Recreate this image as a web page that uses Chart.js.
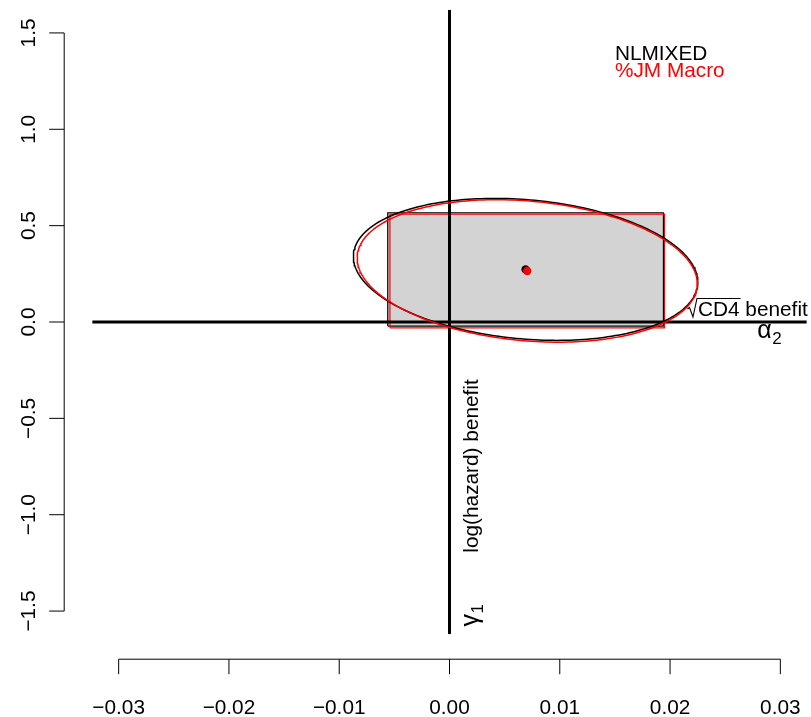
<!DOCTYPE html>
<html>
<head>
<meta charset="utf-8">
<script src="https://cdn.jsdelivr.net/npm/chart.js@4/dist/chart.umd.min.js"></script>
<style>
  html, body { margin: 0; padding: 0; background: #ffffff; }
  canvas { display: block; }
</style>
</head>
<body>
<canvas id="c" width="811" height="717"></canvas>
<script>
// Methods compared
const methods = ['NLMIXED', '%JM Macro'];
const methodColors = ['#000000', '#FF0000'];

// sqrt(CD4) benefit (alpha2): estimate and 95% interval
const alpha2Est = [0.0069, 0.00705];
const alpha2Lower = [-0.0056, -0.0054];
const alpha2Upper = [0.0194, 0.0195];

// log(hazard) benefit (gamma1): estimate and 95% interval
const gamma1Est = [0.273, 0.265];
const gamma1Lower = [-0.021, -0.030];
const gamma1Upper = [0.567, 0.560];

// Joint 95% confidence ellipse: standard errors and correlation
const alpha2SE = [0.00638, 0.00630];
const gamma1SE = [0.1505, 0.1510];
const estCorr = [-0.18, -0.18];

// Axes
const xRange = [-0.0324, 0.0324];
const yRange = [-1.62, 1.62];
const xTicks = [-0.03, -0.02, -0.01, 0, 0.01, 0.02, 0.03];
const xTickLabels = ['\u22120.03', '\u22120.02', '\u22120.01', '0.00', '0.01', '0.02', '0.03'];
const yTicks = [-1.5, -1.0, -0.5, 0, 0.5, 1.0, 1.5];
const yTickLabels = ['\u22121.5', '\u22121.0', '\u22120.5', '0.0', '0.5', '1.0', '1.5'];

const FONT = '"Liberation Sans", Arial, Helvetica, sans-serif';
const FS = 20.8;
const CHI2_95_2DF = Math.sqrt(5.991465);

function rectPath(i) {
  return [
    { x: alpha2Lower[i], y: gamma1Lower[i] },
    { x: alpha2Upper[i], y: gamma1Lower[i] },
    { x: alpha2Upper[i], y: gamma1Upper[i] },
    { x: alpha2Lower[i], y: gamma1Upper[i] },
    { x: alpha2Lower[i], y: gamma1Lower[i] }
  ];
}

// Outline of the joint confidence region for method i
function ellipsePath(i) {
  const pts = [];
  const theta = Math.acos(estCorr[i]);
  const n = 240;
  for (let k = 0; k <= n; k++) {
    const t = (2 * Math.PI * k) / n;
    pts.push({
      x: alpha2Est[i] + CHI2_95_2DF * alpha2SE[i] * Math.cos(t),
      y: gamma1Est[i] + CHI2_95_2DF * gamma1SE[i] * Math.cos(t + theta)
    });
  }
  return pts;
}

const datasets = [
  {
    label: 'interval-' + methods[0], data: rectPath(0), order: 10,
    borderColor: methodColors[0], borderWidth: 1.2, backgroundColor: '#D3D3D3',
    fill: 'shape', pointRadius: 0, tension: 0
  },
  {
    label: 'interval-' + methods[1], data: rectPath(1), order: 9,
    borderColor: methodColors[1], borderWidth: 1.2, fill: false, pointRadius: 0, tension: 0
  },
  {
    label: 'h0', data: [{ x: xRange[0], y: 0 }, { x: xRange[1], y: 0 }], order: 8,
    borderColor: '#000000', borderWidth: 3, fill: false, pointRadius: 0
  },
  {
    label: 'v0', data: [{ x: 0, y: yRange[0] }, { x: 0, y: yRange[1] }], order: 7,
    borderColor: '#000000', borderWidth: 3, fill: false, pointRadius: 0
  },
  {
    label: 'region-' + methods[0], data: ellipsePath(0), order: 6,
    borderColor: methodColors[0], borderWidth: 1.5, fill: false, pointRadius: 0, tension: 0
  },
  {
    label: 'region-' + methods[1], data: ellipsePath(1), order: 5,
    borderColor: methodColors[1], borderWidth: 1.5, fill: false, pointRadius: 0, tension: 0
  },
  {
    label: 'est-' + methods[0], data: [{ x: alpha2Est[0], y: gamma1Est[0] }], order: 4,
    showLine: false, pointRadius: 4.2, pointBackgroundColor: methodColors[0],
    pointBorderWidth: 0, borderColor: methodColors[0]
  },
  {
    label: 'est-' + methods[1], data: [{ x: alpha2Est[1], y: gamma1Est[1] }], order: 3,
    showLine: false, pointRadius: 4.2, pointBackgroundColor: methodColors[1],
    pointBorderWidth: 0, borderColor: methodColors[1]
  }
];

// Base-graphics style axes, text labels and legend
const decorations = {
  id: 'decorations',
  afterDraw(chart) {
    const ctx = chart.ctx;
    const xs = chart.scales.x, ys = chart.scales.y;
    const area = chart.chartArea;
    ctx.save();
    ctx.strokeStyle = '#000000';
    ctx.fillStyle = '#000000';
    ctx.lineWidth = 1;
    ctx.lineCap = 'butt';

    // bottom axis
    const axY = area.bottom + 25;
    const tickLen = 15;
    ctx.beginPath();
    ctx.moveTo(xs.getPixelForValue(xTicks[0]), axY);
    ctx.lineTo(xs.getPixelForValue(xTicks[xTicks.length - 1]), axY);
    xTicks.forEach(v => {
      const px = xs.getPixelForValue(v);
      ctx.moveTo(px, axY);
      ctx.lineTo(px, axY + tickLen);
    });
    ctx.stroke();
    ctx.font = FS + 'px ' + FONT;
    ctx.textAlign = 'center';
    ctx.textBaseline = 'alphabetic';
    xTicks.forEach((v, i) => {
      ctx.fillText(xTickLabels[i], xs.getPixelForValue(v), axY + 54.5);
    });

    // left axis
    const axX = area.left - 28;
    ctx.beginPath();
    ctx.moveTo(axX, ys.getPixelForValue(yTicks[0]));
    ctx.lineTo(axX, ys.getPixelForValue(yTicks[yTicks.length - 1]));
    yTicks.forEach(v => {
      const py = ys.getPixelForValue(v);
      ctx.moveTo(axX, py);
      ctx.lineTo(axX - tickLen, py);
    });
    ctx.stroke();
    yTicks.forEach((v, i) => {
      ctx.save();
      ctx.translate(axX - 29.5, ys.getPixelForValue(v));
      ctx.rotate(-Math.PI / 2);
      ctx.fillText(yTickLabels[i], 0, 0);
      ctx.restore();
    });

    // legend
    ctx.textAlign = 'left';
    const lx = xs.getPixelForValue(0.015);
    const ly = ys.getPixelForValue(1.36);
    ctx.fillStyle = methodColors[0];
    ctx.fillText(methods[0], lx, ly);
    ctx.fillStyle = methodColors[1];
    ctx.fillText(methods[1], lx, ly + 17.5);

    // horizontal axis label: sqrt(CD4) benefit, alpha2
    ctx.fillStyle = '#000000';
    const baseH = ys.getPixelForValue(0) - 6;
    ctx.textAlign = 'right';
    const right = area.right + 1;
    ctx.fillText('benefit', right, baseH);
    const benefitW = ctx.measureText('benefit').width;
    const spaceW = ctx.measureText(' ').width;
    const cdRight = right - benefitW - spaceW;
    ctx.fillText('CD4', cdRight, baseH);
    const cdW = ctx.measureText('CD4').width;
    const cdLeft = cdRight - cdW;
    const topBar = baseH - 17.5;
    ctx.beginPath();
    ctx.lineWidth = 1.1;
    ctx.moveTo(cdLeft - 10.5, baseH - 7);
    ctx.lineTo(cdLeft - 8.5, baseH - 8.5);
    ctx.lineTo(cdLeft - 5, baseH + 1);
    ctx.lineTo(cdLeft - 1, topBar);
    ctx.lineTo(cdRight + 1, topBar);
    ctx.stroke();

    ctx.textAlign = 'left';
    const aX = xs.getPixelForValue(0.0279);
    ctx.font = '25px ' + FONT;
    ctx.fillText('\u03B1', aX, baseH + 22);
    const aW = ctx.measureText('\u03B1').width;
    ctx.font = '17px ' + FONT;
    ctx.fillText('2', aX + aW + 0.5, baseH + 27.5);

    // vertical axis label: log(hazard) benefit, gamma1
    ctx.font = FS + 'px ' + FONT;
    ctx.save();
    ctx.translate(xs.getPixelForValue(0) + 28, ys.getPixelForValue(-1.197));
    ctx.rotate(-Math.PI / 2);
    ctx.textAlign = 'left';
    ctx.fillText('log(hazard) benefit', 0, 0);
    ctx.restore();

    ctx.save();
    ctx.translate(xs.getPixelForValue(0) + 28, ys.getPixelForValue(-1.58));
    ctx.rotate(-Math.PI / 2);
    ctx.textAlign = 'left';
    ctx.font = '25px ' + FONT;
    ctx.fillText('\u03B3', 0, 0);
    const gW = ctx.measureText('\u03B3').width;
    ctx.font = '17px ' + FONT;
    ctx.fillText('1', gW + 0.5, 5);
    ctx.restore();

    ctx.restore();
  }
};

new Chart(document.getElementById('c'), {
  type: 'line',
  data: { datasets },
  options: {
    responsive: false,
    devicePixelRatio: 1,
    animation: false,
    events: [],
    layout: { padding: { left: 92.2, right: 3.8, top: 9.8, bottom: 82.8 } },
    scales: {
      x: { type: 'linear', min: xRange[0], max: xRange[1], display: false },
      y: { type: 'linear', min: yRange[0], max: yRange[1], display: false }
    },
    plugins: { legend: { display: false }, tooltip: { enabled: false } },
    elements: { line: { borderCapStyle: 'butt' } }
  },
  plugins: [decorations]
});
</script>
</body>
</html>
